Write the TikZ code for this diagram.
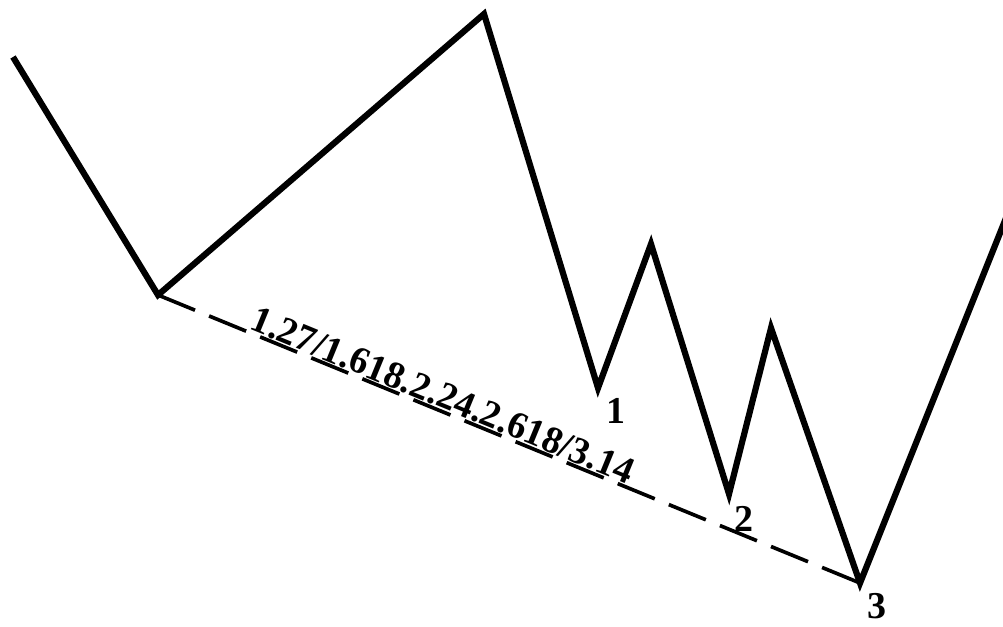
\documentclass[tikz,border=0pt]{standalone}
\usepackage{fontspec}
\setmainfont{Liberation Serif}
\usetikzlibrary{calc, positioning}
\tikzset{
  every picture/.style={line cap=butt, line join=miter},
  wave/.style={line width=4.4pt},
  base/.style={line width=2.6pt, dash pattern=on 1.0cm off 0.38cm},
  ptlbl/.style={font=\fontsize{27}{30}\selectfont\bfseries, inner sep=0pt},
  ratio/.style={font=\fontsize{27}{30}\selectfont\bfseries, inner sep=0pt, anchor=base},
}
\begin{document}
\begin{tikzpicture}[x=0.025cm, y=-0.025cm]
  \useasboundingbox (0,0) rectangle (1003,626);
  % swing points
  \coordinate (p0) at (13,57);
  \coordinate (a) at (158,295);
  \coordinate (b) at (484,14);
  \coordinate (w1) at (598,388);
  \coordinate (h1) at (651,244);
  \coordinate (w2) at (729,494);
  \coordinate (h2) at (771,328);
  \coordinate (w3) at (860,583);
  \coordinate (p9) at (1010,208);
  % price path
  \draw[wave] (p0) -- (a) -- (b) -- (w1) -- (h1) -- (w2) -- (h2) -- (w3) -- (p9);
  % base line through the lows
  \draw[base] (a) -- (w3);
  \node[ratio, rotate=-22.3] (rt) at ($(a)!0.398!(w3)+(1,-3)$) {1.27/1.618.2.24.2.618/3.14};
  % labels
  \node[ptlbl] (l1) at (616,411) {1};
  \node[ptlbl] (l2) at (744,519) {2};
  \node[ptlbl] (l3) at (877,606) {3};
\end{tikzpicture}
\end{document}
